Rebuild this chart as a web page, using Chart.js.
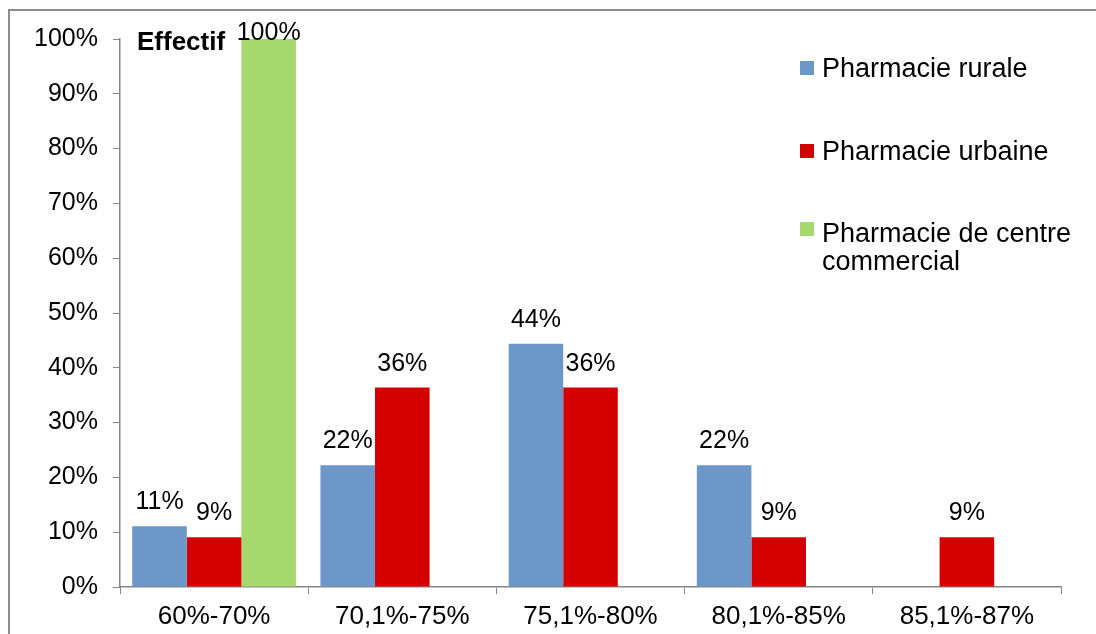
<!DOCTYPE html>
<html>
<head>
<meta charset="utf-8">
<script src="https://cdn.jsdelivr.net/npm/chart.js@4"></script>
<style>
  body { margin: 0; background: #fff; }
  #wrap { width: 1096px; height: 634px; position: relative; }
</style>
</head>
<body>
<div id="wrap"><canvas id="effectifChart"></canvas></div>
<script>
const categories = ['60%-70%', '70,1%-75%', '75,1%-80%', '80,1%-85%', '85,1%-87%'];
const rurale = [11.1, 22.2, 44.4, 22.2, 0];
const urbaine = [9.1, 36.4, 36.4, 9.1, 9.1];
const centreCommercial = [100, 0, 0, 0, 0];
const yTicks = [0, 10, 20, 30, 40, 50, 60, 70, 80, 90, 100];

const FONT = '"Liberation Sans", Arial, sans-serif';
const AXIS_GREY = '#868686';

// outer frame + "Effectif" caption + legend on the right + value labels
const decorations = {
    id: 'decorations',
    beforeDraw(chart) {
        const ctx = chart.ctx;
        ctx.save();
        ctx.fillStyle = '#fff';
        ctx.fillRect(0, 0, chart.width, chart.height);
        ctx.strokeStyle = '#8c8c8c';
        ctx.lineWidth = 2;
        ctx.strokeRect(9, 10, 1300, 900);
        ctx.restore();
    },
    afterDatasetsDraw(chart) {
        const ctx = chart.ctx;
        ctx.save();
        ctx.fillStyle = '#000';
        ctx.textBaseline = 'alphabetic';

        // value labels
        ctx.font = '25px ' + FONT;
        ctx.textAlign = 'center';
        chart.data.datasets.forEach((ds, i) => {
            const meta = chart.getDatasetMeta(i);
            meta.data.forEach((bar, j) => {
                const v = ds.data[j];
                if (!v) return;
                const y = Math.max(bar.y - 17, 40);
                ctx.fillText(Math.round(v) + '%', bar.x, y);
            });
        });

        // caption
        ctx.font = 'bold 26px ' + FONT;
        ctx.textAlign = 'left';
        ctx.fillText('Effectif', 137, 50);

        // legend
        ctx.font = '27px ' + FONT;
        const marks = [68, 151, 229];
        const baselines = [77, 160, 242];
        chart.data.datasets.forEach((ds, i) => {
            ctx.fillStyle = ds.backgroundColor;
            ctx.fillRect(800, marks[i] - 7, 14, 14);
            ctx.fillStyle = '#000';
            const words = ds.label.split(' ');
            let line = '';
            let ly = baselines[i];
            words.forEach(w => {
                const test = line ? line + ' ' + w : w;
                if (ctx.measureText(test).width > 265 && line) {
                    ctx.fillText(line, 822, ly);
                    line = w;
                    ly += 28;
                } else {
                    line = test;
                }
            });
            ctx.fillText(line, 822, ly);
        });
        ctx.restore();
    }
};

new Chart(document.getElementById('effectifChart'), {
    type: 'bar',
    data: {
        labels: categories,
        datasets: [
            { label: 'Pharmacie rurale', data: rurale, backgroundColor: '#6b97c9' },
            { label: 'Pharmacie urbaine', data: urbaine, backgroundColor: '#d50000' },
            { label: 'Pharmacie de centre commercial', data: centreCommercial, backgroundColor: '#a7d86e' }
        ]
    },
    options: {
        responsive: true,
        maintainAspectRatio: false,
        animation: false,
        layout: { padding: { left: 0, top: 39, right: 35, bottom: 0 } },
        datasets: {
            bar: { barPercentage: 1, categoryPercentage: 0.87 }
        },
        plugins: {
            legend: { display: false },
            tooltip: { enabled: false }
        },
        scales: {
            x: {
                grid: {
                    offset: true,
                    drawOnChartArea: false,
                    color: AXIS_GREY,
                    tickLength: 7
                },
                border: { color: AXIS_GREY, width: 1.5 },
                ticks: { color: '#000', font: { family: FONT, size: 26 }, padding: 7, maxRotation: 0 },
                afterFit(scale) { scale.height = 47; }
            },
            y: {
                min: 0,
                max: 100,
                afterBuildTicks(scale) { scale.ticks = yTicks.map(v => ({ value: v })); },
                grid: {
                    drawOnChartArea: false,
                    color: AXIS_GREY,
                    tickLength: 7
                },
                border: { color: AXIS_GREY, width: 1.5 },
                ticks: {
                    color: '#000',
                    font: { family: FONT, size: 25 },
                    padding: 15,
                    callback: v => v + '%'
                },
                afterFit(scale) { scale.width = 120; }
            }
        }
    },
    plugins: [decorations]
});
</script>
</body>
</html>
